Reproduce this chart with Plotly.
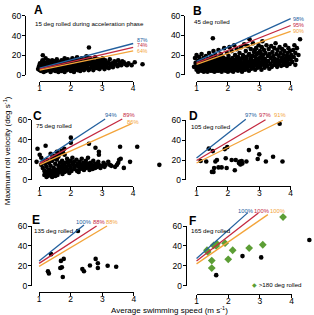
import plotly.graph_objects as go

# ---------------- data ----------------
a_x = [0.95,0.98,1.00,1.02,1.05,1.05,1.08,1.10,1.10,1.12,
       1.15,1.15,1.18,1.20,1.20,1.22,1.25,1.28,1.30,1.30,
       1.32,1.35,1.35,1.38,1.40,1.40,1.42,1.45,1.48,1.50,
       1.50,1.52,1.55,1.55,1.58,1.60,1.60,1.62,1.65,1.68,
       1.70,1.70,1.72,1.75,1.78,1.80,1.80,1.82,1.85,1.88,
       1.90,1.90,1.92,1.95,1.98,2.00,2.00,2.02,2.05,2.05,
       2.08,2.10,2.10,2.12,2.15,2.18,2.20,2.20,2.22,2.25,
       2.28,2.30,2.30,2.32,2.35,2.38,2.40,2.42,2.45,2.48,
       2.50,2.50,2.52,2.55,2.58,2.60,2.60,2.62,2.65,2.68,
       2.70,2.72,2.75,2.78,2.80,2.82,2.85,2.88,2.90,2.92,
       2.95,2.98,3.00,3.02,3.05,3.08,3.10,3.12,3.15,3.20,
       3.22,3.25,3.30,3.32,3.35,3.40,3.45,3.50,3.52,3.58,
       3.62,3.70,3.75,3.85,3.95,4.05,4.30,1.03,1.07,1.13,
       1.17,1.23,1.27,1.33,1.37,1.43,1.47,1.53,1.57,1.63,
       1.67,1.73,1.77,1.83,1.87,1.93,1.97,2.03,2.07,2.13,
       2.17,2.23,2.27,2.33,2.37,2.43,2.47,2.53,2.57,2.63,
       2.67,2.73,2.77,2.83,2.87,2.93,2.97,3.03,3.07,3.13,
       3.18,3.27,3.37,3.42,3.55,3.65,3.80,1.01,1.09,1.19]
a_y = [6,9,5,7,11,4,8,6,20,10,
       5,13,7,9,4,12,6,10,5,14,
       8,3,11,7,9,15,5,12,6,10,
       4,14,8,16,5,11,3,13,7,9,
       15,4,12,6,10,17,3,8,13,5,
       11,16,7,9,14,4,12,6,17,10,
       8,3,15,11,6,13,9,18,5,12,
       7,15,4,10,17,8,13,5,11,16,
       7,19,9,14,28,6,12,17,10,8,
       15,5,13,18,9,11,7,16,12,6,
       14,10,8,17,12,6,15,9,11,13,
       7,16,10,12,8,14,11,9,15,12,
       10,13,11,12,10,13,11,9,13,3,
       10,8,15,12,5,8,14,11,7,9,
       12,8,14,10,6,13,8,14,5,9,
       16,10,14,6,12,9,13,11,5,14,
       12,10,7,14,9,11,16,10,14,8,
       12,10,11,13,11,14,10,12,15,17]

b_x = [0.92,0.95,0.97,1.00,1.00,1.02,1.04,1.05,1.07,1.08,
       1.10,1.12,1.13,1.15,1.16,1.18,1.20,1.22,1.23,1.25,
       1.27,1.28,1.30,1.32,1.33,1.35,1.37,1.38,1.40,1.42,
       1.43,1.45,1.47,1.48,1.50,1.52,1.52,1.54,1.55,1.57,
       1.58,1.60,1.62,1.63,1.65,1.67,1.68,1.70,1.72,1.73,
       1.75,1.77,1.78,1.80,1.82,1.83,1.85,1.87,1.88,1.90,
       1.92,1.93,1.95,1.97,1.98,2.00,2.00,2.02,2.04,2.05,
       2.07,2.08,2.10,2.12,2.13,2.15,2.17,2.18,2.20,2.22,
       2.23,2.25,2.27,2.28,2.30,2.32,2.33,2.35,2.37,2.38,
       2.40,2.42,2.43,2.45,2.47,2.48,2.50,2.52,2.53,2.55,
       2.57,2.58,2.60,2.62,2.63,2.65,2.67,2.68,2.69,2.70,
       2.72,2.73,2.75,2.77,2.78,2.80,2.82,2.83,2.85,2.87,
       2.88,2.90,2.92,2.93,2.95,2.97,2.98,3.00,3.02,3.03,
       3.05,3.07,3.08,3.10,3.10,3.12,3.13,3.15,3.17,3.18,
       3.20,3.22,3.23,3.25,3.27,3.28,3.30,3.32,3.33,3.35,
       3.37,3.38,3.40,3.42,3.43,3.45,3.47,3.48,3.50,3.52,
       3.53,3.55,3.57,3.58,3.60,3.62,3.63,3.65,3.67,3.68,
       3.70,3.72,3.73,3.75,3.77,3.78,3.80,3.82,3.83,3.85,
       3.87,3.88,3.90,3.92,3.93,3.95,3.97,3.98,4.00,4.02,
       4.05,4.08,4.10,4.12,4.15,4.18,4.20,4.25,4.30,4.15,
       1.03,1.11,1.14,1.19,1.21,1.26,1.29,1.31,1.34,1.36,
       1.39,1.41,1.44,1.46,1.49,1.51,1.53,1.56,1.59,1.61,
       1.64,1.66,1.69,1.71,1.74,1.76,1.79,1.81,1.84,1.86,
       1.89,1.91,1.94,1.96,1.99,2.01,2.03,2.06,2.09,2.11,
       2.14,2.16,2.19,2.21,2.24,2.26,2.29,2.31,2.34,2.36,
       2.39,2.41,2.44,2.46,2.49,2.51,2.54,2.56,2.59,2.61,
       2.64,2.66,2.71,2.74,2.76,2.79,2.81,2.84,2.86,2.89,
       2.91,2.94,2.96,2.99,3.01,3.04,3.06,3.09,3.11,3.14]
b_y = [8,17,12,5,20,9,14,3,11,18,
       6,15,9,4,21,12,7,17,3,10,
       14,5,19,8,12,3,16,6,22,10,
       14,4,8,18,12,37,6,24,15,3,
       10,20,7,13,4,17,9,25,12,5,
       15,8,21,3,11,18,6,14,27,9,
       4,16,11,22,7,13,3,19,9,28,
       5,15,11,24,7,17,3,12,30,9,
       20,5,14,26,10,4,18,8,22,13,
       6,28,16,3,11,20,8,31,14,5,
       24,10,17,7,29,13,4,21,36,9,
       15,26,6,19,11,32,8,23,14,5,
       18,27,10,21,7,15,30,12,24,8,
       18,5,28,34,14,20,10,25,7,16,
       22,12,30,9,19,14,26,6,21,11,
       17,29,8,23,14,19,10,27,16,32,
       12,21,8,25,15,19,11,28,14,22,
       9,17,26,13,20,10,24,16,30,12,
       19,9,22,15,27,18,11,24,16,20,
       13,25,18,30,22,15,27,20,36,10,
       7,12,8,5,14,8,12,4,9,13,
       7,5,11,17,9,4,13,8,16,5,
       11,7,14,4,10,19,6,13,9,17,
       5,12,8,15,5,10,16,7,12,4,
       14,9,6,15,11,7,17,12,6,15,
       9,12,7,17,5,12,9,18,6,13,
       9,20,12,17,8,14,19,10,25,12,
       16,9,22,13,17,11,21,12,17,13]

c_x = [0.93,1.19,1.05,0.90,2.00,2.00,1.79,1.64,1.48,2.58,
       2.79,2.90,2.90,3.58,4.13,3.90,3.70,4.84,1.35,1.55,
       1.70,1.40,1.60,1.80,1.00,
       1.05,1.10,1.12,1.15,1.18,1.20,1.22,1.25,1.25,1.28,
       1.30,1.30,1.33,1.35,1.38,1.40,1.40,1.42,1.45,1.47,
       1.50,1.50,1.53,1.55,1.58,1.60,1.62,1.65,1.68,1.70,
       1.72,1.75,1.78,1.80,1.82,1.85,1.88,1.90,1.92,1.95,
       1.98,2.00,2.02,2.05,2.08,2.10,2.12,2.15,2.18,2.20,
       2.22,2.25,2.28,2.30,2.32,2.35,2.38,2.40,2.42,2.45,
       2.48,2.50,2.52,2.55,2.58,2.60,2.62,2.65,2.68,2.70,
       2.72,2.75,2.78,2.80,2.85,2.88,2.90,2.95,3.00,3.05,
       3.08,3.12,3.20,3.25,3.48,3.52,3.55,3.60,3.30,3.42,
       1.15,1.18,1.22,1.27,1.32,1.37,1.43,1.48,1.57,1.63,
       1.73,1.85,1.95,2.25,2.05,1.90,1.60,1.75,1.45]
c_y = [31,34,22,18,42,37,31,26,24,36,
       32,28,25,33,33,18,12,15,26,28,
       29,22,23,25,25,
       15,12,19,9,16,6,13,20,4,10,
       17,7,5,14,9,19,3,6,12,8,
       16,4,10,20,7,14,11,17,9,13,
       19,15,11,8,17,13,21,10,16,14,
       19,12,9,22,15,18,11,14,20,9,
       16,13,18,11,15,21,13,17,10,14,
       19,12,16,22,14,10,17,13,15,11,
       19,14,12,16,13,18,15,12,14,17,
       13,15,18,15,15,17,20,21,14,13,
       5,8,3,7,10,4,9,6,5,8,
       6,9,7,8,16,18,25,27,21]

d_x = [1.13,1.31,1.39,1.52,1.60,1.56,1.49,1.54,1.70,1.80,
       1.93,1.98,1.90,2.12,2.25,2.22,1.96,2.35,2.38,2.40,
       2.42,2.44,2.46,2.40,2.59,2.67,2.92,2.95,3.00,3.21,
       3.44,3.65,3.74,1.65]
d_y = [19,18.5,31.5,29,18.5,12,8.1,8.1,12.6,12.6,
       21.8,33,31,20,20,9.7,12,17,18.5,16,
       17.5,19,16.5,15.5,18.5,30,33,21,25.7,18.5,
       23.3,56.4,18.5,20]

e_x = [2.23,1.38,1.28,1.31,1.67,1.72,1.69,1.78,1.75,2.37,
       2.42,2.61,2.79,2.86,2.86,3.17,3.44]
e_y = [55.1,31.8,14.6,12.3,17.8,18.5,25,27,8.8,16.9,
       14.6,20.4,27,22.7,17.8,20.1,19.1]

f_x = [1.62,2.45,3.04,4.56]
f_y = [10.7,29.8,28.5,46]
f_green_x = [3.73,1.33,1.35,1.54,1.64,1.62,1.90,1.48,1.48,2.14,2.00,2.66,3.09]
f_green_y = [69,35.7,34,40.6,42.2,40,42.8,25.3,17.8,35.7,26.6,37.9,41.2]

# threshold lines: [x_start, x_end], [y_start, y_end] for blue, red, orange
line_x = {
    "A": [[1, 4], [1, 4], [1, 4]],
    "B": [[1, 4], [1, 4], [1, 4]],
    "C": [[1, 3.1], [1, 3.65], [1, 3.95]],
    "D": [[1, 2.57], [1, 3.2], [1, 3.75]],
    "E": [[1, 2.42], [1, 2.82], [1, 3.15]],
    "F": [[1, 2.62], [1, 2.95], [1, 3.25]],
}
line_y = {
    "A": [[7, 32], [6, 28], [5, 24.5]],
    "B": [[13.5, 57], [12, 50], [10.5, 44]],
    "C": [[18, 60.5], [16.5, 60.5], [15, 56]],
    "D": [[22, 61], [19.5, 60.5], [17, 60]],
    "E": [[25, 61], [22.5, 60], [19.5, 60]],
    "F": [[27.5, 73.5], [25, 73], [22, 71.5]],
}
pct = {
    "A": ["87%", "74%", "64%"],
    "B": ["98%", "95%", "90%"],
    "C": ["94%", "89%", "86%"],
    "D": ["97%", "97%", "91%"],
    "E": ["100%", "88%", "88%"],
    "F": ["100%", "100%", "100%"],
}
subtitles = {
    "A": "15 deg rolled during acceleration phase",
    "B": "45 deg rolled",
    "C": "75 deg rolled",
    "D": "105 deg rolled",
    "E": "135 deg rolled",
    "F": "165 deg rolled",
}
x_ticks = [1, 2, 3, 4]
y_ticks = [0, 20, 40, 60]

# ---------------- styling / layout ----------------
W, H = 314, 315
FONT = "Liberation Sans, Arial, sans-serif"
BLUE, RED, ORANGE, GREEN = "#23609e", "#c4283f", "#f3a43a", "#5c9e35"
line_cols = [BLUE, RED, ORANGE]

panels = ["A", "B", "C", "D", "E", "F"]
# pixel geometry: x-pixel of x=1 / x=4, y-pixel of y=0 / y=60, y-axis line x, x-axis line y
geom = {
    "A": dict(x1=38.3, x4=133.3, y0=72.3, y60=11.3, yl=23.3, xl=78.7),
    "B": dict(x1=197.7, x4=293.3, y0=72.0, y60=11.0, yl=185.0, xl=78.0),
    "C": dict(x1=38.3, x4=133.3, y0=180.7, y60=118.3, yl=29.3, xl=186.7),
    "D": dict(x1=197.7, x4=293.3, y0=180.7, y60=119.0, yl=185.7, xl=186.7),
    "E": dict(x1=37.7, x4=134.0, y0=290.0, y60=228.3, yl=29.3, xl=296.7),
    "F": dict(x1=197.7, x4=294.3, y0=290.0, y60=228.3, yl=186.7, xl=298.3),
}
letter_pos = {"A": (36.7, 5.5), "B": (198.8, 5.8), "C": (36.2, 114.2),
              "D": (194.3, 114.5), "E": (35.0, 222.5), "F": (194.0, 223.3)}
sub_pos = {"A": (32, 19), "B": (193, 17), "C": (33, 124.3),
           "D": (190, 125.7), "E": (30, 232.7), "F": (190, 232.7)}
pct_pos = {
    "A": [(143, 36.3), (143, 41.8), (143, 47.3)],
    "B": [(301, 14), (301, 20.7), (301, 26.7)],
    "C": [(111, 114), (129, 114), (133, 121)],
    "D": [(253, 114), (267, 114), (283, 114)],
    "E": [(83, 224), (98.5, 224), (112, 224)],
    "F": [(247, 212.7), (264, 212.7), (280, 212.7)],
}

pts = {"A": (a_x, a_y), "B": (b_x, b_y), "C": (c_x, c_y),
       "D": (d_x, d_y), "E": (e_x, e_y), "F": (f_x, f_y)}

fig = go.Figure()
layout = {}
annotations = []

def ax_name(i):
    return "" if i == 1 else str(i)

for k, p in enumerate(panels):
    g = geom[p]
    vi = k + 1          # visible axes
    di = k + 7          # data axes
    sx = (g["x4"] - g["x1"]) / 3.0
    sy = (g["y0"] - g["y60"]) / 60.0

    # visible (decorative) offset axes
    layout["xaxis" + ax_name(vi)] = dict(
        domain=[g["x1"] / W, g["x4"] / W], range=[1, 4], anchor="free",
        position=1 - g["xl"] / H, showline=True, linecolor="black", linewidth=1,
        ticks="outside", ticklen=3, tickwidth=1, tickcolor="black",
        tickvals=x_ticks, showgrid=False, zeroline=False, ticklabelstandoff=-4,
        tickfont=dict(size=8.5, color="black", family=FONT))
    layout["yaxis" + ax_name(vi)] = dict(
        domain=[1 - g["y0"] / H, 1 - g["y60"] / H], range=[0, 60], anchor="free",
        position=g["yl"] / W, showline=True, linecolor="black", linewidth=1,
        ticks="outside", ticklen=3, tickwidth=1, tickcolor="black",
        tickvals=y_ticks, showgrid=False, zeroline=False, ticklabelstandoff=-1,
        tickfont=dict(size=8.5, color="black", family=FONT))
    fig.add_trace(go.Scatter(x=[None], y=[None], xaxis="x" + ax_name(vi),
                             yaxis="y" + ax_name(vi), showlegend=False,
                             hoverinfo="skip"))

    # data axes: same scale, larger area so marks can spill past the axes
    dl = max(g["x1"] - 20, 0.0)
    dr = min(g["x4"] + 30, W)
    dt = max(g["y60"] - 22, 0.0)
    db = min(g["y0"] + 8, H)
    layout["xaxis" + ax_name(di)] = dict(
        domain=[dl / W, dr / W],
        range=[1 - (g["x1"] - dl) / sx, 4 + (dr - g["x4"]) / sx],
        anchor="y" + ax_name(di), visible=False, showgrid=False, zeroline=False)
    layout["yaxis" + ax_name(di)] = dict(
        domain=[1 - db / H, 1 - dt / H],
        range=[-(db - g["y0"]) / sy, 60 + (g["y60"] - dt) / sy],
        anchor="x" + ax_name(di), visible=False, showgrid=False, zeroline=False)

    xa, ya = "x" + ax_name(di), "y" + ax_name(di)
    px_, py_ = pts[p]
    fig.add_trace(go.Scatter(x=px_, y=py_, mode="markers", xaxis=xa, yaxis=ya,
                             marker=dict(color="black", size=4.6, line=dict(width=0)),
                             cliponaxis=False, showlegend=False))
    if p == "F":
        fig.add_trace(go.Scatter(x=f_green_x, y=f_green_y, mode="markers",
                                 xaxis=xa, yaxis=ya,
                                 marker=dict(color=GREEN, size=6, symbol="diamond",
                                             line=dict(width=0)),
                                 cliponaxis=False, showlegend=False))
    for j in range(3):
        fig.add_trace(go.Scatter(x=line_x[p][j], y=line_y[p][j], mode="lines",
                                 xaxis=xa, yaxis=ya,
                                 line=dict(color=line_cols[j], width=1.3),
                                 showlegend=False))
        lx, ly = pct_pos[p][j]
        annotations.append(dict(x=lx / W, y=1 - ly / H, xref="paper", yref="paper",
                                text=pct[p][j], showarrow=False, xanchor="center",
                                yanchor="middle",
                                font=dict(size=5.2 if p == "A" else (5.5 if p == "B" else 5.8),
                                          color=line_cols[j], family=FONT)))

    lx, ly = letter_pos[p]
    annotations.append(dict(x=lx / W, y=1 - ly / H, xref="paper", yref="paper",
                            text="<b>%s</b>" % p, showarrow=False, xanchor="center",
                            yanchor="middle",
                            font=dict(size=12, color="black", family=FONT)))
    sx0, sy0 = sub_pos[p]
    annotations.append(dict(x=sx0 / W, y=1 - sy0 / H, xref="paper", yref="paper",
                            text=subtitles[p], showarrow=False, xanchor="left",
                            yanchor="middle",
                            font=dict(size=6.2, color="black", family=FONT)))

# legend for F as text
annotations.append(dict(x=252 / W, y=1 - 288.3 / H, xref="paper", yref="paper",
                        text="<span style='color:%s'>◆</span> &gt;180 deg rolled" % GREEN,
                        showarrow=False, xanchor="left", yanchor="middle",
                        font=dict(size=6.2, color="black", family=FONT)))
# axis titles
annotations.append(dict(x=5 / W, y=1 - 150 / H, xref="paper", yref="paper",
                        text="Maximum roll velocity (deg s<sup>-1</sup>)",
                        showarrow=False, textangle=-90, xanchor="center",
                        yanchor="middle", font=dict(size=8, color="black", family=FONT)))
annotations.append(dict(x=170 / W, y=1 - 314.5 / H, xref="paper", yref="paper",
                        text="Average swimming speed (m s<sup>-1</sup>)",
                        showarrow=False, xanchor="center", yanchor="middle",
                        font=dict(size=8, color="black", family=FONT)))

fig.update_layout(width=W, height=H, margin=dict(l=0, r=0, t=0, b=0, pad=0),
                  paper_bgcolor="white", plot_bgcolor="rgba(0,0,0,0)",
                  font=dict(family=FONT, color="black"),
                  annotations=annotations, **layout)
fig.write_html("out.html")
